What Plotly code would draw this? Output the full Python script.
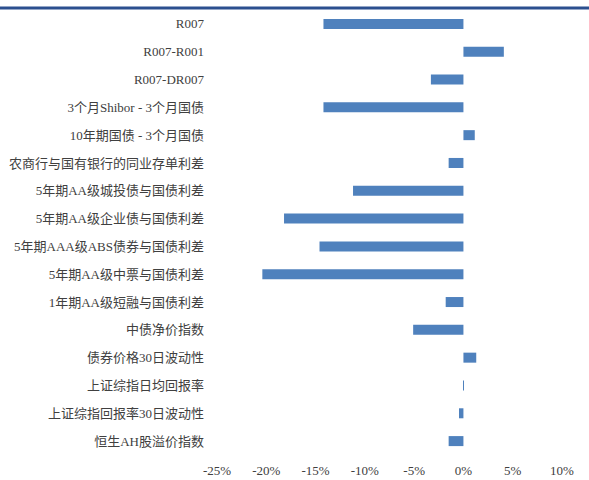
import plotly.graph_objects as go

categories = [
    "R007",
    "R007-R001",
    "R007-DR007",
    "3个月Shibor - 3个月国债",
    "10年期国债 - 3个月国债",
    "农商行与国有银行的同业存单利差",
    "5年期AA级城投债与国债利差",
    "5年期AA级企业债与国债利差",
    "5年期AAA级ABS债券与国债利差",
    "5年期AA级中票与国债利差",
    "1年期AA级短融与国债利差",
    "中债净价指数",
    "债券价格30日波动性",
    "上证综指日均回报率",
    "上证综指回报率30日波动性",
    "恒生AH股溢价指数",
]
values = [-14.2, 4.1, -3.3, -14.2, 1.15, -1.5, -11.2, -18.2, -14.6, -20.4,
          -1.8, -5.1, 1.3, 0.05, -0.45, -1.5]
x_ticks = [-25, -20, -15, -10, -5, 0, 5, 10]
x_tick_labels = ["-25%", "-20%", "-15%", "-10%", "-5%", "0%", "5%", "10%"]

font_family = "Liberation Serif, Noto Sans CJK SC, serif"

fig = go.Figure(
    go.Bar(
        x=values,
        y=categories,
        orientation="h",
        marker=dict(color="#4F81BD", line=dict(width=0)),
        hoverinfo="x+y",
    )
)

fig.update_layout(
    width=589,
    height=480,
    margin=dict(l=217, r=27, t=10, b=25),
    paper_bgcolor="white",
    plot_bgcolor="white",
    showlegend=False,
    bargap=0.64,
    font=dict(family=font_family, size=13, color="#404040"),
    xaxis=dict(
        range=[-25, 10],
        tickvals=x_ticks,
        ticktext=x_tick_labels,
        showgrid=False,
        zeroline=False,
        showline=False,
        ticks="",
        ticklabelstandoff=6,
        automargin=False,
        fixedrange=True,
    ),
    yaxis=dict(
        categoryorder="array",
        categoryarray=categories,
        autorange="reversed",
        showgrid=False,
        zeroline=False,
        showline=False,
        ticks="",
        ticklabelstandoff=12,
        automargin=False,
        fixedrange=True,
    ),
    shapes=[
        dict(
            type="line",
            xref="paper",
            yref="paper",
            x0=-0.7,
            x1=1.2,
            y0=1.0045,
            y1=1.0045,
            line=dict(color="#2B4F8F", width=3),
        )
    ],
)

fig.write_html(
    "out.html",
    config={"displayModeBar": False},
    post_script="document.body.style.margin='0';",
)
